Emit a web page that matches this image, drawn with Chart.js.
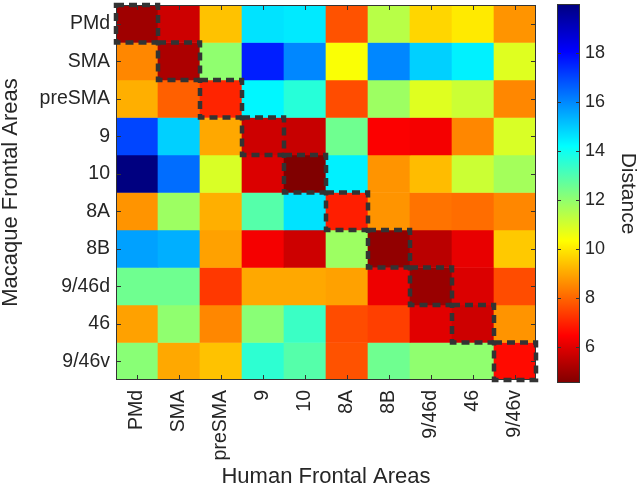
<!DOCTYPE html>
<html>
<head>
<meta charset="utf-8">
<script src="https://cdn.jsdelivr.net/npm/chart.js@4/dist/chart.umd.min.js"></script>
<style>
  html, body { margin: 0; padding: 0; background: #fff; }
  #wrap { position: relative; width: 640px; height: 488px; }
  #heat { position: absolute; left: 0; top: 0; }
  #cbar { position: absolute; left: 545px; top: 0; }
</style>
</head>
<body>
<div id="wrap">
  <canvas id="heat" width="545" height="488"></canvas>
  <canvas id="cbar" width="95" height="488"></canvas>
</div>
<script>
'use strict';

// human areas along x, macaque areas down y
var humanAreas   = ['PMd', 'SMA', 'preSMA', '9', '10', '8A', '8B', '9/46d', '46', '9/46v'];
var macaqueAreas = ['PMd', 'SMA', 'preSMA', '9', '10', '8A', '8B', '9/46d', '46', '9/46v'];

// one row per macaque area, columns follow humanAreas
var rowPMd    = [5.0, 5.7, 9.4, 14.6, 14.5, 7.7, 11.4, 9.7, 10.0, 8.7];
var rowSMA    = [8.5, 5.2, 12.0, 17.6, 16.0, 10.4, 16.0, 14.9, 14.4, 10.8];
var rowPreSMA = [9.1, 7.9, 7.0, 14.3, 13.6, 7.6, 11.8, 10.8, 11.1, 8.5];
var row9      = [17.0, 14.9, 9.0, 5.7, 5.6, 12.5, 6.4, 6.3, 8.5, 10.9];
var row10     = [19.98, 16.4, 10.9, 5.9, 4.52, 14.4, 8.7, 9.3, 11.1, 11.7];
var row8A     = [8.7, 11.8, 9.1, 12.9, 14.6, 6.9, 8.7, 8.2, 8.1, 8.5];
var row8B     = [15.6, 15.4, 8.9, 6.3, 5.7, 11.8, 4.8, 5.4, 6.1, 9.5];
var row946d   = [12.5, 12.5, 7.3, 9.0, 9.0, 8.9, 6.2, 4.9, 5.9, 7.6];
var row46     = [8.9, 12.0, 8.5, 12.1, 13.3, 7.6, 7.4, 6.0, 5.7, 8.7];
var row946v   = [12.1, 9.0, 9.4, 13.5, 12.9, 7.7, 12.5, 12.0, 12.0, 6.6];
var distances = [rowPMd, rowSMA, rowPreSMA, row9, row10, row8A, row8B, row946d, row46, row946v];

var colorbarTicks = [6, 8, 10, 12, 14, 16, 18];
var vMin = 4.52;
var vMax = 19.98;

var textColor = '#262626';
var lineColor = '#333333';

Chart.defaults.font.family = '"Liberation Sans", Arial, sans-serif';
Chart.defaults.color = textColor;

function clamp(v) {
	return Math.max(0, Math.min(1, v));
}

// matlab jet, flipped so small distances are dark red
function jet(x) {
	var r = clamp(1.5 - Math.abs(4 * x - 3));
	var g = clamp(1.5 - Math.abs(4 * x - 2));
	var b = clamp(1.5 - Math.abs(4 * x - 1));
	return 'rgb(' + Math.round(r * 255) + ',' + Math.round(g * 255) + ',' + Math.round(b * 255) + ')';
}

function distColor(v) {
	return jet((vMax - v) / (vMax - vMin));
}

// chart.js pads the area for the outer tick labels, we don't want that here
function noEdgePadding(s) {
	s.paddingTop = 0;
	s.paddingBottom = 0;
	s.paddingLeft = 0;
	s.paddingRight = 0;
}

var heatFrame = {
	id: 'heatFrame',
	afterDatasetsDraw: function(chart) {
		var c = chart.ctx;
		var a = chart.chartArea;
		var xs = chart.scales.x;
		var ys = chart.scales.y;
		var tick = 5;
		c.save();

		// outer box with inward ticks
		c.strokeStyle = lineColor;
		c.lineWidth = 1;
		c.strokeRect(a.left + 0.5, a.top + 0.5, a.right - a.left - 1, a.bottom - a.top - 1);
		c.beginPath();
		humanAreas.forEach(function(l, i) {
			var px = Math.round(xs.getPixelForValue(i)) + 0.5;
			c.moveTo(px, a.top); c.lineTo(px, a.top + tick);
			c.moveTo(px, a.bottom); c.lineTo(px, a.bottom - tick);
		});
		macaqueAreas.forEach(function(l, i) {
			var py = Math.round(ys.getPixelForValue(i + 0.5)) + 0.5;
			c.moveTo(a.left, py); c.lineTo(a.left + tick, py);
			c.moveTo(a.right, py); c.lineTo(a.right - tick, py);
		});
		c.stroke();

		// dashed boxes on the diagonal
		var half = (xs.getPixelForValue(1) - xs.getPixelForValue(0)) / 2;
		c.lineWidth = 4.5;
		c.setLineDash([8, 5]);
		c.strokeStyle = lineColor;
		for (var i = 0; i < macaqueAreas.length; i++) {
			var x0 = xs.getPixelForValue(i) - half;
			var y0 = ys.getPixelForValue(i);
			var y1 = ys.getPixelForValue(i + 1);
			c.strokeRect(x0, y0, half * 2, y1 - y0);
		}
		c.restore();
	}
};

var heatData = {
	labels: humanAreas,
	datasets: macaqueAreas.map(function(name, r) {
		return {
			label: name,
			data: humanAreas.map(function() { return [r, r + 1]; }),
			backgroundColor: distances[r].map(distColor),
			borderWidth: 0,
			grouped: false,
			barPercentage: 1,
			categoryPercentage: 1
		};
	})
};

new Chart(document.getElementById('heat'), {
	type: 'bar',
	data: heatData,
	options: {
		responsive: false,
		animation: false,
		devicePixelRatio: 1,
		layout: { padding: { top: 5, right: 9, left: 0, bottom: 0 } },
		plugins: { legend: { display: false }, tooltip: { enabled: false } },
		scales: {
			x: {
				type: 'category',
				grid: { display: false, drawTicks: false },
				border: { display: false },
				ticks: { autoSkip: false, minRotation: 90, maxRotation: 90, padding: 10, font: { size: 19.5 } },
				title: { display: true, text: 'Human Frontal Areas', font: { size: 22, lineHeight: 1 }, padding: 0 },
				afterFit: function(s) { s.height = 108; noEdgePadding(s); }
			},
			y: {
				type: 'linear',
				min: 0,
				max: 10,
				reverse: true,
				grid: { display: false, drawTicks: false },
				border: { display: false },
				afterBuildTicks: function(s) {
					s.ticks = macaqueAreas.map(function(l, i) { return { value: i + 0.5 }; });
				},
				ticks: {
					autoSkip: false,
					padding: 6,
					font: { size: 19.5 },
					callback: function(v, i) { return macaqueAreas[i]; }
				},
				title: { display: true, text: 'Macaque Frontal Areas', font: { size: 22, lineHeight: 1 }, padding: 0 },
				afterFit: function(s) { s.width = 116; noEdgePadding(s); }
			}
		}
	},
	plugins: [heatFrame]
});

// colour bar
function barGradient(ctx) {
	var chart = ctx.chart;
	var a = chart.chartArea;
	if (!a) return null;
	var ys = chart.scales.y;
	var g = chart.ctx.createLinearGradient(0, ys.getPixelForValue(vMin), 0, ys.getPixelForValue(vMax));
	for (var k = 0; k <= 40; k++) {
		var v = vMin + (vMax - vMin) * k / 40;
		g.addColorStop(k / 40, distColor(v));
	}
	return g;
}

var cbarFrame = {
	id: 'cbarFrame',
	afterDatasetsDraw: function(chart) {
		var c = chart.ctx;
		var a = chart.chartArea;
		var ys = chart.scales.y;
		c.save();
		c.strokeStyle = lineColor;
		c.lineWidth = 1;
		c.strokeRect(a.left + 0.5, a.top + 0.5, a.right - a.left - 1, a.bottom - a.top - 1);
		c.beginPath();
		colorbarTicks.forEach(function(t) {
			var py = Math.round(ys.getPixelForValue(t)) + 0.5;
			c.moveTo(a.left, py); c.lineTo(a.left + 4, py);
			c.moveTo(a.right, py); c.lineTo(a.right - 4, py);
		});
		c.stroke();
		c.restore();
	}
};

new Chart(document.getElementById('cbar'), {
	type: 'bar',
	data: {
		labels: ['Distance'],
		datasets: [{
			data: [[vMin, vMax]],
			backgroundColor: barGradient,
			borderWidth: 0,
			barPercentage: 1,
			categoryPercentage: 1
		}]
	},
	options: {
		responsive: false,
		animation: false,
		devicePixelRatio: 1,
		layout: { padding: { top: 4, bottom: 105, left: 12, right: 0 } },
		plugins: { legend: { display: false }, tooltip: { enabled: false } },
		scales: {
			x: { display: false },
			y: {
				position: 'right',
				min: vMin,
				max: vMax,
				grid: { display: false, drawTicks: false },
				border: { display: false },
				afterBuildTicks: function(s) {
					s.ticks = colorbarTicks.map(function(t) { return { value: t }; });
				},
				ticks: { padding: 5, font: { size: 18 } },
				title: { display: true, text: 'Distance', font: { size: 21, lineHeight: 1 }, padding: 2 },
				afterFit: function(s) { s.width = 60; noEdgePadding(s); }
			}
		}
	},
	plugins: [cbarFrame]
});
</script>
</body>
</html>
